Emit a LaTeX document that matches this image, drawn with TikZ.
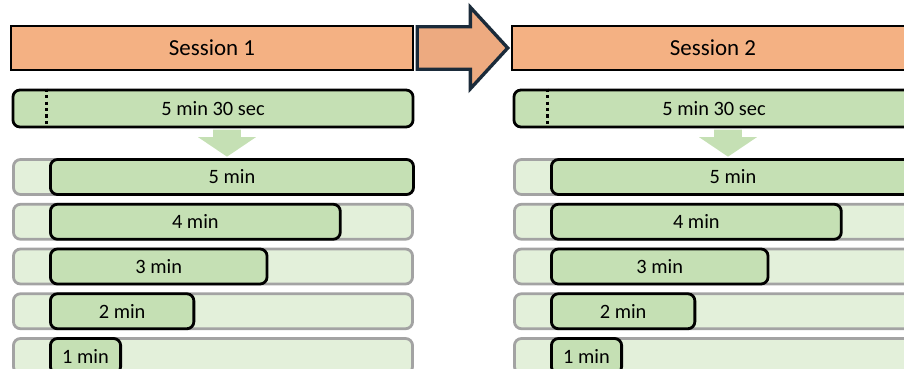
\documentclass[tikz,border=0pt]{standalone}
\usepackage{fontspec}
\setmainfont{Carlito}
\usepackage{xcolor}
\usetikzlibrary{positioning,shapes.arrows,calc}

\definecolor{pessego}{HTML}{F4B183}
\definecolor{setacor}{HTML}{EDAA80}
\definecolor{marinho}{HTML}{1B2B3A}
\definecolor{verde}{HTML}{C5E0B4}
\definecolor{verdeclaro}{HTML}{E3F0DA}
\definecolor{cinza}{HTML}{A3A3A3}

\begin{document}
\begin{tikzpicture}[x=0.025cm,y=-0.025cm,
    sessao/.style={draw=black,line width=2pt,fill=pessego,inner sep=0pt,
        minimum width=10.05cm,minimum height=1.1cm,font=\fontsize{16.3}{19}\selectfont},
    total/.style={draw=black,line width=2pt,fill=verde,rounded corners=5pt,inner sep=0pt,
        minimum width=10cm,minimum height=0.925cm,font=\fontsize{14.5}{17}\selectfont},
    fundo/.style={draw=cinza,line width=2pt,fill=verdeclaro,rounded corners=5pt,inner sep=0pt,
        minimum width=9.975cm,minimum height=0.875cm},
    barra/.style={draw=black,line width=2pt,fill=verde,rounded corners=5pt,inner sep=0pt,
        minimum height=0.875cm,anchor=west,font=\fontsize{14.5}{17}\selectfont},
    desce/.style={single arrow,draw=none,fill=verde,inner xsep=0.3375cm,inner ysep=0pt,
        shape border rotate=270,minimum height=0.675cm,single arrow head extend=0.375cm,
        single arrow tip angle=112,anchor=tip},
    proxima/.style={single arrow,draw=marinho,line width=2.4pt,fill=setacor,inner xsep=0pt,
        inner ysep=0.4875cm,minimum height=2.2625cm,single arrow head extend=0.4875cm,
        single arrow tip angle=95,anchor=tip}]
    \clip (0,0) rectangle (904,369);
    % Duas sessoes iguais, a segunda deslocada para a direita
    \foreach \s/\dx in {1/0,2/501} {
        \node[sessao] (sess\s) at (212+\dx,48) {Session \s};
        \node[total] (full\s) at (213+\dx,108.5) {5 min 30 sec};
        \draw[line width=1.9pt,dash pattern=on 2.3pt off 2.3pt]
            ($(full\s.north west)+(35,0)$) -- ($(full\s.south west)+(35,0)$);
        \node[desce] (down\s) at (227+\dx,157) {};
        % Linhas de 5 min a 1 min
        \foreach \k in {1,...,5} {
            \pgfmathtruncatemacro{\m}{6-\k}
            \node[fundo] (bg\s-\k) at (213+\dx,{177+44.75*(\k-1)}) {};
            \node[barra,minimum width={1.83cm*\m-0.075cm}] (bar\s-\k)
                at (49+\dx,{177+44.75*(\k-1)}) {\m\ min};
        }
    }
    % Seta grande entre as sessoes
    \node[proxima] (next) at (510,48) {};
\end{tikzpicture}
\end{document}
